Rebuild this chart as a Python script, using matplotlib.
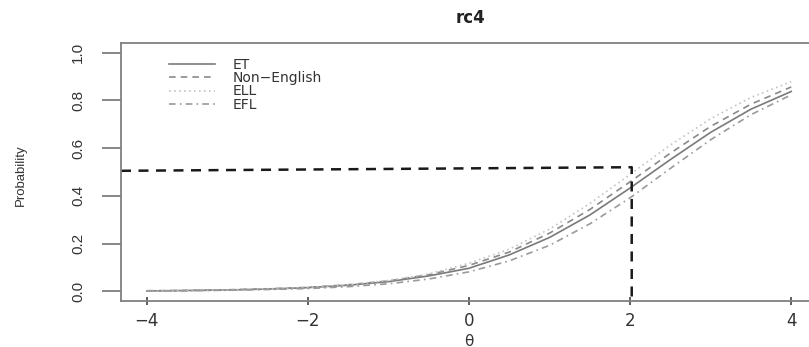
import matplotlib
matplotlib.use("Agg")
import matplotlib.pyplot as plt
from matplotlib import font_manager

# item characteristic curves for item rc4, one per learner group
theta = [-4.0, -3.5, -3.0, -2.5, -2.0, -1.5, -1.0, -0.5, 0.0,
         0.5, 1.0, 1.5, 2.0, 2.5, 3.0, 3.5, 4.0]
p_et = [0.002, 0.004, 0.006, 0.010, 0.016, 0.026, 0.041, 0.065, 0.097,
        0.153, 0.226, 0.320, 0.433, 0.552, 0.666, 0.763, 0.837]
p_non_english = [0.003, 0.004, 0.007, 0.011, 0.017, 0.028, 0.044, 0.070, 0.109,
                 0.165, 0.244, 0.343, 0.459, 0.579, 0.691, 0.784, 0.856]
p_ell = [0.002, 0.004, 0.006, 0.011, 0.017, 0.028, 0.046, 0.073, 0.118,
         0.177, 0.261, 0.368, 0.490, 0.613, 0.723, 0.812, 0.878]
p_efl = [0.002, 0.003, 0.005, 0.008, 0.012, 0.020, 0.032, 0.052, 0.082,
         0.128, 0.193, 0.283, 0.392, 0.515, 0.635, 0.740, 0.823]

groups = ["ET", "Non\u2212English", "ELL", "EFL"]

# guide marking the 0.5 probability level and the theta where it is reached
ref_theta = [-4.32, 2.02, 2.02]
ref_prob = [0.505, 0.52, -0.04]

x_ticks = [-4, -2, 0, 2, 4]
y_ticks = [0.0, 0.2, 0.4, 0.6, 0.8, 1.0]

names = {f.name for f in font_manager.fontManager.ttflist}
narrow = "Liberation Sans Narrow" if "Liberation Sans Narrow" in names else "Liberation Sans"
plt.rcParams["font.family"] = ["DejaVu Sans"]

W, H = 809, 347
fig = plt.figure(figsize=(W / 100, H / 100), dpi=100)
# plot region runs past the right edge, so the right side of the box is not shown
left, right, bottom, top = 121, 817, 301, 43
ax = fig.add_axes([left / W, (H - bottom) / H, (right - left) / W, (bottom - top) / H])

ax.plot(theta, p_et, color="#7a7a7a", lw=1.2, ls="-", label=groups[0])
ax.plot(theta, p_non_english, color="#8a8a8a", lw=1.2, ls=(0, (4, 3)), label=groups[1])
ax.plot(theta, p_ell, color="#c4c4c4", lw=1.2, ls=(0, (1, 2)), label=groups[2])
ax.plot(theta, p_efl, color="#9a9a9a", lw=1.2, ls=(0, (4, 2.5, 1, 2.5)), label=groups[3])

ax.plot(ref_theta, ref_prob, color="#1a1a1a", lw=1.8, ls=(0, (4, 3)), clip_on=False)

ax.set_xlim(-4.32, 4.32)
ax.set_ylim(-0.04, 1.04)
ax.set_xticks(x_ticks)
ax.set_xticklabels(["\u22124", "\u22122", "0", "2", "4"])
ax.set_yticks(y_ticks)
ax.set_yticklabels([f"{v:.1f}" for v in y_ticks], rotation=90, va="center",
                   family=narrow, fontsize=11)

for s in ax.spines.values():
    s.set_color("#808080")
    s.set_linewidth(1.3)
ax.spines["right"].set_visible(False)
ax.tick_params(axis="y", length=14, width=1.1, color="#666666", pad=12, labelcolor="#333333")
ax.tick_params(axis="x", length=6, width=1.1, color="#333333", direction="inout",
               pad=5, labelsize=12, labelcolor="#333333")

fig.text(470 / W, 1 - 18 / H, "rc4", ha="center", va="center", fontsize=12,
         fontweight="bold", color="#222222")
fig.text(469 / W, 1 - 341 / H, "\u03b8", ha="center", va="center", fontsize=11,
         color="#333333")
fig.text(21 / W, 1 - 175 / H, "Probability", rotation=90, ha="center", va="center",
         family=narrow, fontsize=9.5, color="#333333")

ax.legend(loc="upper left", bbox_to_anchor=(0.055, 0.98), frameon=False,
          fontsize=10, handlelength=3.3, handletextpad=1.25, labelspacing=-0.05,
          borderpad=0.2, labelcolor="#333333")

fig.savefig("out.png", dpi=100)
